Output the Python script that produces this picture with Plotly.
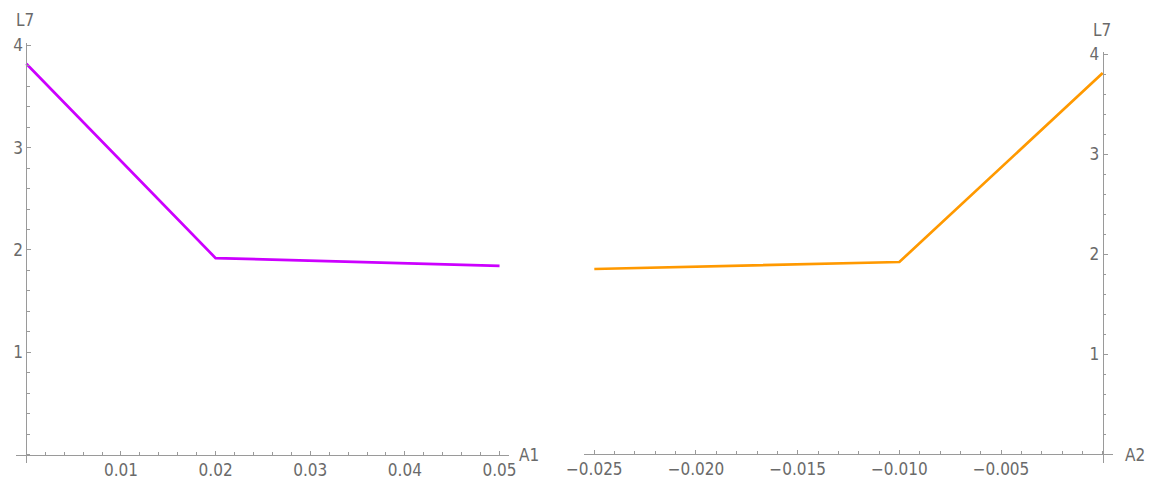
import plotly.graph_objects as go

# L7 response to each parameter
a1_vals = [0.0, 0.02, 0.05]
l7_vs_a1 = [3.82, 1.92, 1.845]

a2_vals = [-0.025, -0.010, 0.0]
l7_vs_a2 = [1.85, 1.92, 3.81]

# tick labels
a1_ticks = [0.01, 0.02, 0.03, 0.04, 0.05]
a1_ticktext = ["0.01", "0.02", "0.03", "0.04", "0.05"]
a2_ticks = [-0.025, -0.020, -0.015, -0.010, -0.005]
a2_ticktext = ["\u22120.025", "\u22120.020", "\u22120.015", "\u22120.010", "\u22120.005"]
l7_ticks = [1, 2, 3, 4]
l7_ticktext = ["1", "2", "3", "4"]

W, H = 1149, 481
AXIS = "#9a9a9a"
FONT = dict(family="DejaVu Sans Condensed, Liberation Sans, sans-serif",
            size=17, color="#6a6a6a")

fig = go.Figure()
fig.add_trace(go.Scatter(x=a1_vals, y=l7_vs_a1, mode="lines",
                         line=dict(color="#CC00FF", width=2.7),
                         xaxis="x", yaxis="y", showlegend=False))
fig.add_trace(go.Scatter(x=a2_vals, y=l7_vs_a2, mode="lines",
                         line=dict(color="#FF9900", width=2.7),
                         xaxis="x2", yaxis="y2", showlegend=False))


def xax(domain, rng, pos, tickvals, ticktext, minor_dtick):
    return dict(domain=domain, range=rng, anchor="free", position=pos,
                automargin=False,
                showline=True, linecolor=AXIS, linewidth=1,
                ticks="inside", ticklen=4, tickwidth=1, tickcolor=AXIS,
                tickvals=tickvals, ticktext=ticktext, tickfont=FONT,
                minor=dict(ticks="inside", dtick=minor_dtick, tick0=0,
                           ticklen=2.5, tickwidth=1, tickcolor=AXIS),
                showgrid=False, zeroline=False)


def yax(domain, rng, pos):
    return dict(domain=domain, range=rng, anchor="free", position=pos, side="left",
                automargin=False,
                showline=True, linecolor=AXIS, linewidth=1,
                ticks="inside", ticklen=4, tickwidth=1, tickcolor=AXIS,
                tickvals=l7_ticks, ticktext=l7_ticktext, tickfont=FONT,
                minor=dict(ticks="inside", dtick=0.2, tick0=0,
                           ticklen=2.5, tickwidth=1, tickcolor=AXIS),
                showgrid=False, zeroline=False)


fig.update_layout(
    width=W, height=H,
    margin=dict(l=0, r=0, t=0, b=0, autoexpand=False),
    paper_bgcolor="white", plot_bgcolor="white",
    xaxis=xax([16 / W, 509 / W], [-0.00109, 0.051], 1 - 454.5 / H,
              a1_ticks, a1_ticktext, 0.002),
    yaxis=yax([1 - 462.7 / H, 1 - 43.3 / H], [-0.08, 4.02], 26.3 / W),
    xaxis2=xax([584 / W, 1113 / W], [-0.025507, 0.000506], 1 - 453.7 / H,
               a2_ticks, a2_ticktext, 0.001),
    yaxis2=yax([1 - 462.7 / H, 1 - 52 / H], [-0.087, 4.02], 1102.7 / W),
    annotations=[
        dict(text="L7", x=25 / W, y=1 - 20 / H, xref="paper", yref="paper",
             xanchor="center", yanchor="middle", showarrow=False, font=FONT),
        dict(text="A1", x=529 / W, y=1 - 455 / H, xref="paper", yref="paper",
             xanchor="center", yanchor="middle", showarrow=False, font=FONT),
        dict(text="L7", x=1101.5 / W, y=1 - 30 / H, xref="paper", yref="paper",
             xanchor="center", yanchor="middle", showarrow=False, font=FONT),
        dict(text="A2", x=1135 / W, y=1 - 455 / H, xref="paper", yref="paper",
             xanchor="center", yanchor="middle", showarrow=False, font=FONT),
    ],
)

fig.write_html("out.html")
